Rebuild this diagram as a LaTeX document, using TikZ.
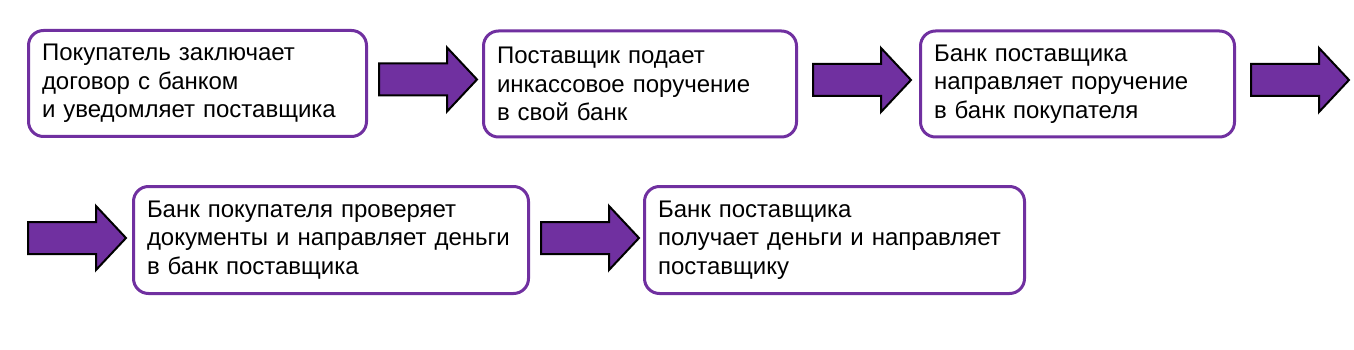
\documentclass[tikz,border=0pt]{standalone}
\usepackage{fontspec}
\setmainfont{Liberation Sans}
\definecolor{vio}{HTML}{7030A0}
\begin{document}
\begin{tikzpicture}[x=1pt,y=-1pt,
  stepbox/.style={draw=vio, line width=3pt, rounded corners=15pt, fill=white,
    align=left, inner xsep=13.5pt, inner ysep=0pt, outer sep=0pt,
    font=\fontsize{24}{28.5}\selectfont},
  arrowbody/.style={draw=black, line width=2pt, fill=vio, line join=miter},
  blockarrow/.pic={\path[arrowbody] (0,-16) -- (68,-16) -- (68,-32) -- (98,0) -- (68,32) -- (68,16) -- (0,16) -- cycle;}
]
\useasboundingbox (0,0) rectangle (1354,350);

\node[stepbox, minimum width=338pt, minimum height=106pt, text width=311pt] (b1) at (197.5,83.5)
  {Покупатель заключает\\договор с банком\\и уведомляет поставщика};
\node[stepbox, minimum width=313pt, minimum height=106pt, text width=286pt] (b2) at (640,84)
  {Поставщик подает\\инкассовое поручение\\в свой банк};
\node[stepbox, minimum width=314pt, minimum height=106pt, text width=287pt] (b3) at (1077.5,84)
  {Банк поставщика\\направляет поручение\\в банк покупателя};
\node[stepbox, minimum width=395pt, minimum height=107pt, text width=368pt] (b4) at (331,240)
  {Банк покупателя проверяет\\документы и направляет деньги\\в банк поставщика};
\node[stepbox, minimum width=380pt, minimum height=107pt, text width=353pt] (b5) at (834.5,240)
  {Банк поставщика\\получает деньги и направляет\\поставщику};

\pic (a1) at (379,79.5) {blockarrow};
\pic (a2) at (813,80) {blockarrow};
\pic (a3) at (1251,80) {blockarrow};
\pic (a4) at (28,238) {blockarrow};
\pic (a5) at (541,238) {blockarrow};
\end{tikzpicture}
\end{document}
